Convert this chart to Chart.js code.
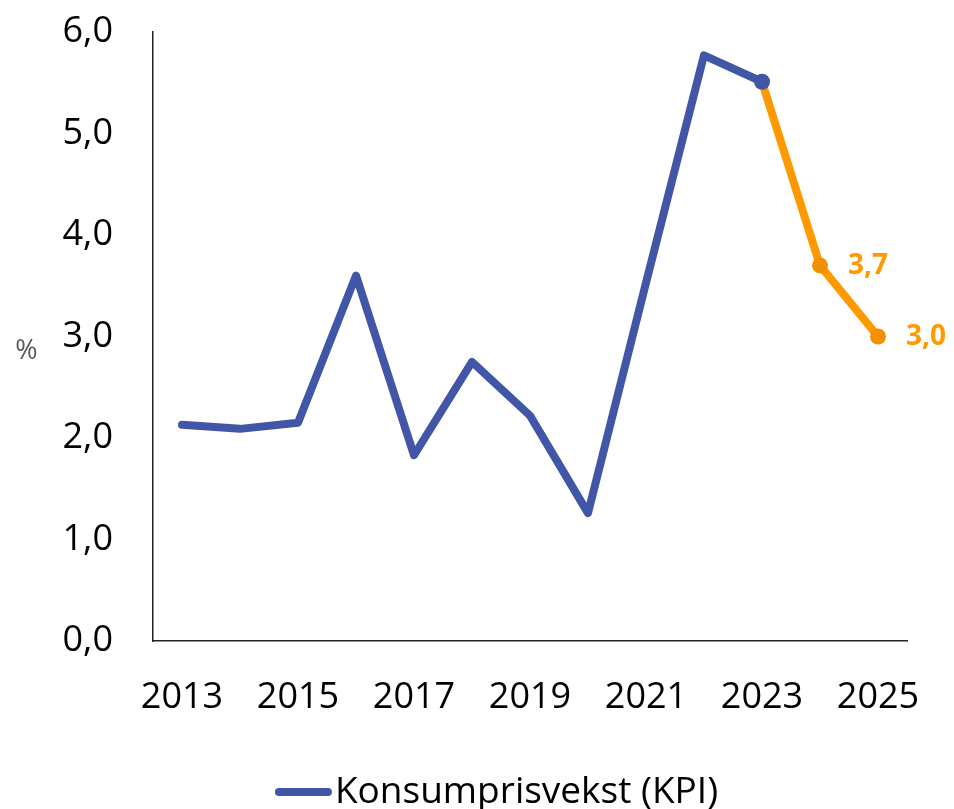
<!DOCTYPE html>
<html><head><meta charset="utf-8">
<script src="https://cdn.jsdelivr.net/npm/chart.js@4/dist/chart.umd.min.js"></script>
<style>html,body{margin:0;padding:0;background:#fff}#wrap{width:954px;height:809px}</style>
</head><body><div id="wrap"><canvas id="c" width="954" height="809"></canvas></div>
<script>
const years = ['2013','2014','2015','2016','2017','2018','2019','2020','2021','2022','2023','2024','2025'];
const kpi = [2.13, 2.09, 2.15, 3.6, 1.83, 2.75, 2.22, 1.26, 3.53, 5.77, 5.51, null, null];
const forecast = [null, null, null, null, null, null, null, null, null, null, 5.51, 3.7, 3.0];
const yTicks = [0,1,2,3,4,5,6];
const legendLabel = 'Konsumprisvekst (KPI)';
const unitLabel = '%';

const BLUE = '#4256a8', ORANGE = '#ff9900', ORANGE_PT = '#f29100';
const FONT = "'Open Sans', 'Noto Sans', sans-serif";
const fmt = v => v.toFixed(1).replace('.', ',');

const extras = {
  id: 'extras',
  afterDatasetsDraw(chart) {
    const ctx = chart.ctx;
    const meta = chart.getDatasetMeta(1);
    ctx.save();
    ctx.font = "bold 28px " + FONT;
    ctx.fillStyle = ORANGE;
    ctx.textAlign = 'left';
    ctx.textBaseline = 'middle';
    forecast.forEach((v, i) => {
      if (v === null || i < 11) return;
      const p = meta.data[i];
      ctx.fillText(fmt(v), p.x + 28, p.y + 1);
    });
    ctx.restore();
  },
  afterDraw(chart) {
    const ctx = chart.ctx;
    const ca = chart.chartArea;
    ctx.save();
    ctx.font = "27px " + FONT;
    ctx.fillStyle = '#595959';
    ctx.textAlign = 'center';
    ctx.textBaseline = 'middle';
    ctx.fillText(unitLabel, 26.5, (ca.top + ca.bottom) / 2 + 15);
    ctx.font = "37px " + FONT;
    const tw = ctx.measureText(legendLabel).width;
    const lineW = 57, gap = 3;
    const total = lineW + gap + tw;
    const x0 = 496.5 - total / 2;
    const y = 792;
    ctx.strokeStyle = BLUE;
    ctx.lineWidth = 8;
    ctx.lineCap = 'round';
    ctx.beginPath();
    ctx.moveTo(x0 + 4, y);
    ctx.lineTo(x0 + lineW - 4, y);
    ctx.stroke();
    ctx.fillStyle = '#000';
    ctx.textAlign = 'left';
    ctx.fillText(legendLabel, x0 + lineW + gap, y);
    ctx.restore();
  }
};

new Chart(document.getElementById('c'), {
  type: 'line',
  data: {
    labels: years,
    datasets: [
      {
        label: legendLabel,
        data: kpi,
        borderColor: BLUE,
        backgroundColor: BLUE,
        borderWidth: 8,
        borderCapStyle: 'round',
        borderJoinStyle: 'round',
        pointRadius: kpi.map((v, i) => i === 10 ? 8 : 0),
        pointBackgroundColor: BLUE,
        pointBorderWidth: 0,
        tension: 0,
        spanGaps: false
      },
      {
        label: 'Prognose',
        data: forecast,
        borderColor: ORANGE,
        backgroundColor: ORANGE_PT,
        borderWidth: 8,
        borderCapStyle: 'round',
        borderJoinStyle: 'round',
        pointRadius: forecast.map((v, i) => i >= 11 ? 8 : 0),
        pointBackgroundColor: ORANGE_PT,
        pointBorderWidth: 0,
        tension: 0
      }
    ]
  },
  options: {
    responsive: false,
    animation: false,
    devicePixelRatio: 1,
    layout: { padding: { left: 0, right: 47, top: 32, bottom: 68 } },
    plugins: { legend: { display: false }, tooltip: { enabled: false } },
    scales: {
      x: {
        offset: true,
        grid: { display: false, drawTicks: false },
        border: { display: true, color: '#222', width: 1.5 },
        ticks: {
          autoSkip: false, maxRotation: 0, padding: 35,
          color: '#000', font: { family: FONT, size: 36 },
          callback: (v, i) => (i % 2 === 0 ? years[i] : '')
        },
        afterFit: s => { s.height = 100; s.paddingLeft = 0; s.paddingRight = 0; }
      },
      y: {
        min: 0, max: 6,
        grid: { display: false, drawTicks: false },
        border: { display: true, color: '#222', width: 1.5 },
        afterBuildTicks: s => { s.ticks = yTicks.map(v => ({ value: v })); },
        ticks: {
          padding: 40, color: '#000', font: { family: FONT, size: 36 },
          callback: v => fmt(v)
        },
        afterFit: s => { s.width = 153; s.paddingTop = 0; s.paddingBottom = 0; }
      }
    }
  },
  plugins: [extras]
});
</script></body></html>
